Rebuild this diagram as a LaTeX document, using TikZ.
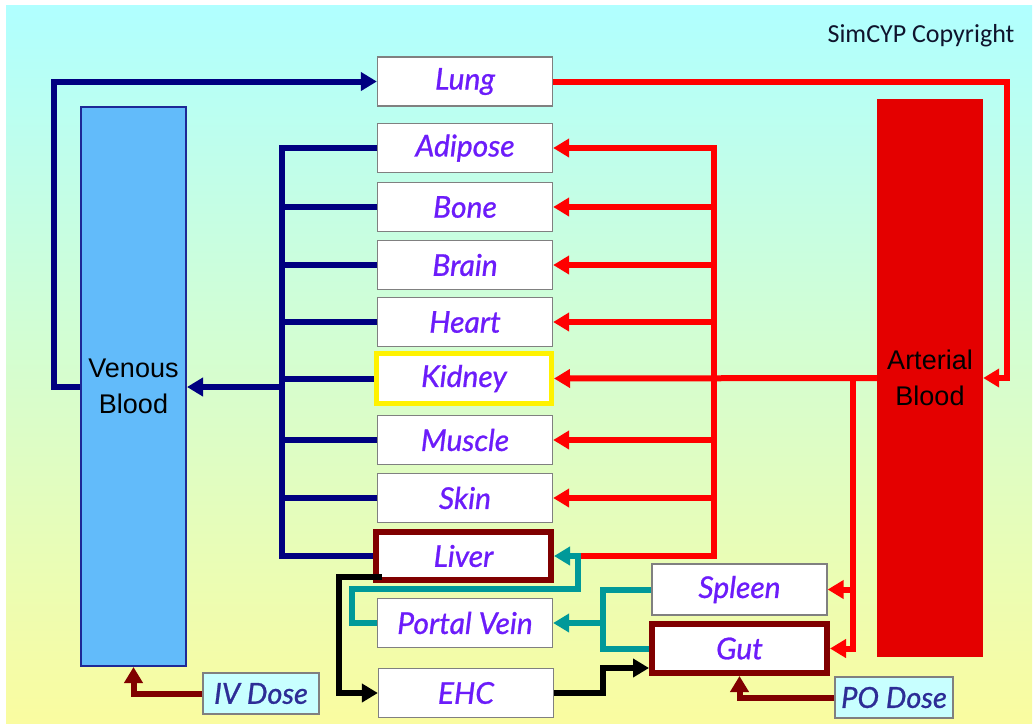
\documentclass[tikz,border=0pt]{standalone}
\usepackage{fontspec}
\setmainfont{Liberation Sans}
\newfontfamily\orgfam[FakeBold=0.9]{Lato}
\newfontfamily\copyfam{Carlito}
\usetikzlibrary{arrows.meta}
\definecolor{bgtop}{RGB}{176,255,255}
\definecolor{bgbot}{RGB}{250,252,160}
\definecolor{navyc}{RGB}{0,0,128}
\definecolor{redc}{RGB}{255,0,0}
\definecolor{tealc}{RGB}{0,153,153}
\definecolor{darkredc}{RGB}{128,0,0}
\definecolor{venfill}{RGB}{98,187,250}
\definecolor{venline}{RGB}{30,40,150}
\definecolor{artfill}{RGB}{228,0,0}
\definecolor{orgtext}{RGB}{108,28,250}
\definecolor{dosetext}{RGB}{45,45,150}
\definecolor{dosefill}{RGB}{200,255,255}
\definecolor{boxline}{RGB}{128,128,128}
\definecolor{copytext}{RGB}{15,20,45}
\begin{document}
\begin{tikzpicture}[x=1pt,y=-1pt,
  organ/.style={rectangle, fill=white, draw=boxline, line width=1.3pt, minimum width=175pt, minimum height=49pt, inner sep=0pt,
    font=\orgfam\itshape\fontsize{30}{34}\selectfont, text=orgtext},
  dosebox/.style={rectangle, fill=dosefill, draw=boxline, line width=1.3pt, minimum height=41pt, inner sep=0pt,
    font=\orgfam\itshape\fontsize{29}{32}\selectfont, text=dosetext},
  blood/.style={rectangle, inner sep=0pt, align=center, font=\fontsize{27}{36}\selectfont, text=black},
  conn/.style={line width=6pt, line join=miter, -{Triangle[length=16pt,width=18pt]}},
  plain/.style={line width=6pt, line join=miter},
  nv/.style={draw=navyc, color=navyc},
  rd/.style={draw=redc, color=redc},
  tl/.style={draw=tealc, color=tealc},
  bk/.style={draw=black, color=black},
  dr/.style={draw=darkredc, color=darkredc}
]
\useasboundingbox (0,0) rectangle (1034,724);
\shade[top color=bgtop, bottom color=bgbot] (6,5) rectangle (1032,723);

\node[font=\copyfam\fontsize{26}{30}\selectfont, text=copytext] (copy) at (921,36) {SimCYP Copyright};

% blood pools
\node[blood, fill=venfill, draw=venline, line width=2pt, minimum width=105pt, minimum height=559pt] (venous) at (133.5,386.5) {Venous\\Blood};
\node[blood, fill=artfill, minimum width=106pt, minimum height=558pt] (arterial) at (930,378) {Arterial\\Blood};

% organs
\node[organ] (lung) at (465,81.5) {Lung};
\node[organ] (adipose) at (465,148) {Adipose};
\node[organ] (bone) at (465,207) {Bone};
\node[organ] (brain) at (465,265) {Brain};
\node[organ] (heart) at (465,322) {Heart};
\node[organ, draw=yellow, line width=5pt, minimum width=175pt, minimum height=50pt] (kidney) at (464,378.5) {Kidney};
\node[organ] (muscle) at (465,440) {Muscle};
\node[organ] (skin) at (465,498) {Skin};
\node[organ, draw=darkredc, line width=6pt, minimum width=175pt, minimum height=48pt] (liver) at (463.5,556) {Liver};
\node[organ] (portal) at (465,623) {Portal Vein};
\node[organ] (ehc) at (466,693) {EHC};
\node[organ, minimum height=51pt] (spleen) at (739.5,589.5) {Spleen};
\node[organ, draw=darkredc, line width=6pt, minimum width=175pt, minimum height=49pt] (gut) at (739.5,648.5) {Gut};
\node[dosebox, minimum width=116pt] (iv) at (261,693.5) {IV Dose};
\node[dosebox, minimum width=118pt] (po) at (894,697.5) {PO Dose};

% junction coordinates
\coordinate (vleft) at (54,0);
\coordinate (vc) at (282,0);
\coordinate (vj) at (0,387);
\coordinate (rr) at (1007,0);
\coordinate (ra) at (714,0);
\coordinate (rb) at (853,0);
\coordinate (pvj) at (578,0);
\coordinate (pvl) at (352,589);
\coordinate (tj) at (603,0);
\coordinate (bx) at (339,0);
\coordinate (bj) at (603,668);

% venous side (navy)
\draw[nv, conn] (venous.west) -- (vleft |- venous.west) |- (lung.west);
\draw[nv, plain] (adipose.west) -- (vc |- adipose.west) -- (vc |- liver.west) -- (liver.west);
\foreach \o in {bone, brain, heart, kidney, muscle, skin}
  \draw[nv, plain] (\o.west) -- (vc |- \o.west);
\draw[nv, conn] (vc |- vj) -- (venous.east |- vj);

% arterial side (red)
\draw[rd, conn] (lung.east) -| (rr |- arterial.east) -- (arterial.east);
\draw[rd, conn] (arterial.west) -- (kidney.east);
\draw[rd, conn] (pvj |- liver.east) -- (ra |- liver.east) -- (ra |- adipose.east) -- (adipose.east);
\foreach \o in {bone, brain, heart, muscle, skin}
  \draw[rd, conn] (ra |- \o.east) -- (\o.east);
\draw[rd, conn] (rb |- arterial.west) |- (gut.east);
\draw[rd, conn] (rb |- spleen.east) -- (spleen.east);

% portal system (teal)
\draw[tl, conn] (portal.west) -| (pvl) -| (pvj |- liver.east) -- (liver.east);
\draw[tl, plain] (spleen.west) -| (tj |- gut.west) -- (gut.west);
\draw[tl, conn] (tj |- portal.east) -- (portal.east);

% enterohepatic (black)
\draw[bk, conn] ([shift={(9,-6)}]liver.south west) -| (bx |- ehc.west) -- (ehc.west);
\draw[bk, conn] (ehc.east) -| (bj) -- (bj -| gut.west);

% doses (dark red)
\draw[dr, conn] (iv.west) -| (venous.south);
\draw[dr, conn] (po.west) -| (gut.south);
\end{tikzpicture}
\end{document}
